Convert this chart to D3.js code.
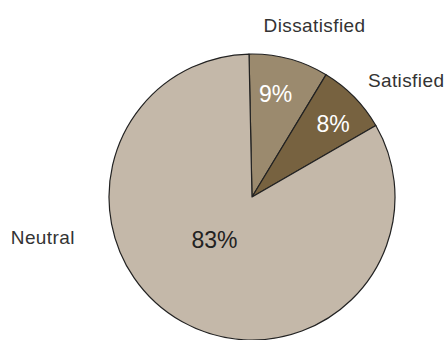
<!DOCTYPE html>
<html><head><meta charset="utf-8">
<script src="https://cdn.jsdelivr.net/npm/d3@7"></script>
<style>body{margin:0;background:#fff}svg{display:block}</style>
</head><body>
<script>
const categories = ["Dissatisfied", "Satisfied", "Neutral"];
const values = [9, 8, 83];
const colors = ["#9b8a6e", "#776240", "#c4b8a9"];
const labelColors = ["#ffffff", "#ffffff", "#222222"];

const W = 447, H = 340, cx = 252, cy = 197, R = 143;
const svg = d3.select("body").append("svg").attr("width", W).attr("height", H);
const g = svg.append("g").attr("transform", `translate(${cx},${cy})`);
const start = -1.2 * Math.PI / 180;
const pie = d3.pie().sort(null).startAngle(start).endAngle(start + 2 * Math.PI);
const arcs = pie(values);
const arc = d3.arc().innerRadius(0).outerRadius(R);

g.selectAll("path").data(arcs).enter().append("path")
  .attr("d", arc).attr("fill", (d, i) => colors[i])
  .attr("stroke", "#222").attr("stroke-width", 1.2).attr("stroke-linejoin", "round");

const font = "'Liberation Sans', Arial, sans-serif";
// percentage labels: polar placement (radius factor, angle nudge in degrees)
const pctPlace = [[0.742, -2.2], [0.765, 2.2], [0.40, 11.7]];
g.selectAll("text.pct").data(arcs).enter().append("text")
  .attr("class", "pct")
  .attr("transform", (d, i) => {
    const a = (d.startAngle + d.endAngle) / 2 + pctPlace[i][1] * Math.PI / 180;
    const r = R * pctPlace[i][0];
    return `translate(${Math.sin(a) * r},${-Math.cos(a) * r})`;
  })
  .attr("text-anchor", "middle").attr("dy", "0.36em")
  .attr("font-family", font).attr("font-size", 23)
  .attr("fill", (d, i) => labelColors[i])
  .text(d => d.data + "%");

// category labels: polar placement (radius factor, angle nudge), anchor
const catPlace = [[1.278, 5], [1.15, -0.8], [1.27, 47.9]];
const catAnchor = ["middle", "start", "end"];
g.selectAll("text.cat").data(arcs).enter().append("text")
  .attr("class", "cat")
  .attr("transform", (d, i) => {
    const a = (d.startAngle + d.endAngle) / 2 + catPlace[i][1] * Math.PI / 180;
    const r = R * catPlace[i][0];
    return `translate(${Math.sin(a) * r},${-Math.cos(a) * r})`;
  })
  .attr("text-anchor", (d, i) => catAnchor[i])
  .attr("dy", "0.36em")
  .attr("font-family", font).attr("font-size", 19).attr("letter-spacing", 0.4)
  .attr("fill", "#333")
  .text((d, i) => categories[i]);
</script>
</body></html>
